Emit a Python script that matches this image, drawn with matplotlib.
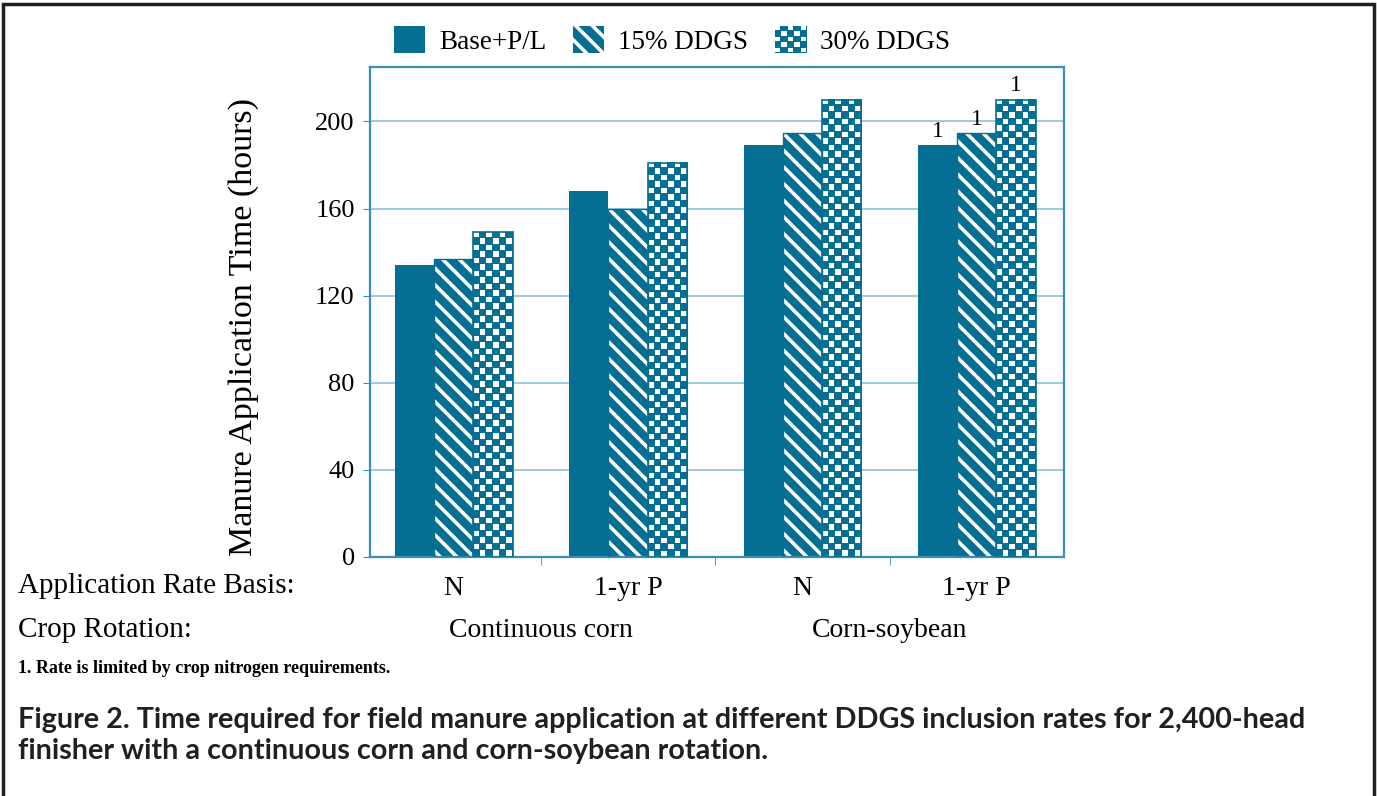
import numpy as np
import matplotlib
matplotlib.use("Agg")
import matplotlib.pyplot as plt
from matplotlib.patches import Patch, Rectangle
from matplotlib.image import BboxImage
from matplotlib.transforms import Bbox, TransformedBbox, blended_transform_factory
from matplotlib.legend_handler import HandlerBase

# data
rate_basis = ["N", "1-yr P", "N", "1-yr P"]
rotations = ["Continuous corn", "Corn-soybean"]
series = ["Base+P/L", "15% DDGS", "30% DDGS"]
base_pl = [134, 168, 189, 189]
ddgs15 = [137, 160, 194.5, 194.5]
ddgs30 = [149, 181, 210, 210]
footnote_flags = [False, False, False, True]  # group limited by crop N
yticks = [0, 40, 80, 120, 160, 200]

teal = "#046f93"
frame_blue = "#3a8fba"
grid_blue = "#8ec2dc"

plt.rcParams["font.family"] = ["Liberation Serif", "DejaVu Serif"]
plt.rcParams["hatch.linewidth"] = 2.6


def checker(nx, ny, sub=6, sq=5):
    # white squares on teal, checkerboard texture
    rgb_t = np.array(matplotlib.colors.to_rgb(teal))
    img = np.ones((ny * sub, nx * sub, 3)) * rgb_t
    off = (sub - sq) // 2
    for j in range(ny):
        for i in range(nx):
            if (i + j) % 2 == 0:
                img[j * sub + off:j * sub + off + sq, i * sub + off:i * sub + off + sq] = 1.0
    return img


class HandlerChecker(HandlerBase):
    def create_artists(self, legend, orig_handle, xdescent, ydescent,
                       width, height, fontsize, trans):
        bb = TransformedBbox(Bbox.from_bounds(-xdescent, -ydescent, width, height), trans)
        img = BboxImage(bb, interpolation="nearest")
        img.set_data(checker(5, 5))
        return [img]


fig = plt.figure(figsize=(13.77, 7.96), dpi=100)
ax = fig.add_axes([0.2687, 0.3003, 0.504, 0.6156])

x = np.arange(len(rate_basis))
bw = 0.225
ax.set_xlim(-0.48, 3.5)
ax.set_ylim(0, 225)

ax.bar(x - bw, base_pl, bw, color=teal, zorder=2)
ax.bar(x, ddgs15, bw, facecolor=teal, edgecolor="white", hatch="\\\\", linewidth=0, zorder=2)
ax.bar(x, ddgs15, bw, fill=False, edgecolor=teal, linewidth=1, zorder=3)
bars30 = ax.bar(x + bw, ddgs30, bw, fill=False, edgecolor=teal, linewidth=1.2, zorder=3)

# checker texture for the 30% bars
fig.canvas.draw()
px_x = ax.transData.transform((1, 0))[0] - ax.transData.transform((0, 0))[0]
px_y = ax.transData.transform((0, 1))[1] - ax.transData.transform((0, 0))[1]
for b in bars30:
    x0, w, h = b.get_x(), b.get_width(), b.get_height()
    nx = max(1, int(round(w * px_x / 6.5)))
    ny = max(1, int(round(h * px_y / 6.5)))
    ax.imshow(checker(nx, ny), extent=(x0, x0 + w, 0, h), aspect="auto",
              interpolation="nearest", zorder=2)
ax.set_xlim(-0.48, 3.5)
ax.set_ylim(0, 225)

# footnote markers
for xi, vals, flag in zip(x, zip(base_pl, ddgs15, ddgs30), footnote_flags):
    if flag:
        for k, v in enumerate(vals):
            ax.text(xi + (k - 1) * bw, v + 1.5, "1", ha="center", va="bottom", fontsize=17)

ax.set_yticks(yticks)
ax.yaxis.grid(True, color=grid_blue, linewidth=1.2, zorder=0)
ax.set_axisbelow(True)
ax.tick_params(axis="y", labelsize=19, length=5, color=frame_blue, pad=6)
for s in ax.spines.values():
    s.set_color(frame_blue)
    s.set_linewidth(1.6)

ax.set_xticks(x)
ax.set_xticklabels(rate_basis)
ax.set_xticks([0.5, 1.5, 2.5], minor=True)
ax.tick_params(axis="x", which="major", length=0, labelsize=20, pad=14)
ax.tick_params(axis="x", which="minor", length=6, color=frame_blue)

ax.set_ylabel("Manure Application Time (hours)", fontsize=24.5)
ax.yaxis.set_label_coords(-0.16, 0.47)

# row labels under the chart
fig.text(0.013, 0.2638, "Application Rate Basis:", fontsize=21, va="center")
fig.text(0.013, 0.2085, "Crop Rotation:", fontsize=21, va="center")
tr = blended_transform_factory(ax.transData, fig.transFigure)
ax.text(0.5, 0.2085, rotations[0], transform=tr, ha="center", va="center", fontsize=20)
ax.text(2.5, 0.2085, rotations[1], transform=tr, ha="center", va="center", fontsize=20)

fig.text(0.013, 0.1608, "1. Rate is limited by crop nitrogen requirements.",
         fontsize=13, fontweight="bold", va="center")
cap_kw = dict(fontsize=20.7, fontweight="bold", family=["Lato", "DejaVu Sans"],
              va="center", color="#231f20")
fig.text(0.013, 1 - 720 / 796,
         "Figure 2. Time required for field manure application at different DDGS inclusion rates for 2,400-head",
         **cap_kw)
fig.text(0.013, 1 - 751 / 796,
         "finisher with a continuous corn and corn-soybean rotation.", **cap_kw)

handles = [Patch(facecolor=teal),
           Patch(facecolor=teal, edgecolor="white", hatch="\\\\", linewidth=0),
           Patch(facecolor=teal)]
leg = fig.legend(handles, series, loc="center", bbox_to_anchor=(0.488, 0.949), ncol=3,
                 frameon=False, fontsize=19.5, handlelength=1.15, handleheight=1.15,
                 handletextpad=0.5, columnspacing=1.0,
                 handler_map={handles[2]: HandlerChecker()})

# outer frame of the figure panel
fig.patches.append(Rectangle((0.002, -0.01), 0.996, 1.005, transform=fig.transFigure,
                             fill=False, edgecolor="#231f20", linewidth=2.5))

fig.savefig("out.png", dpi=100)
